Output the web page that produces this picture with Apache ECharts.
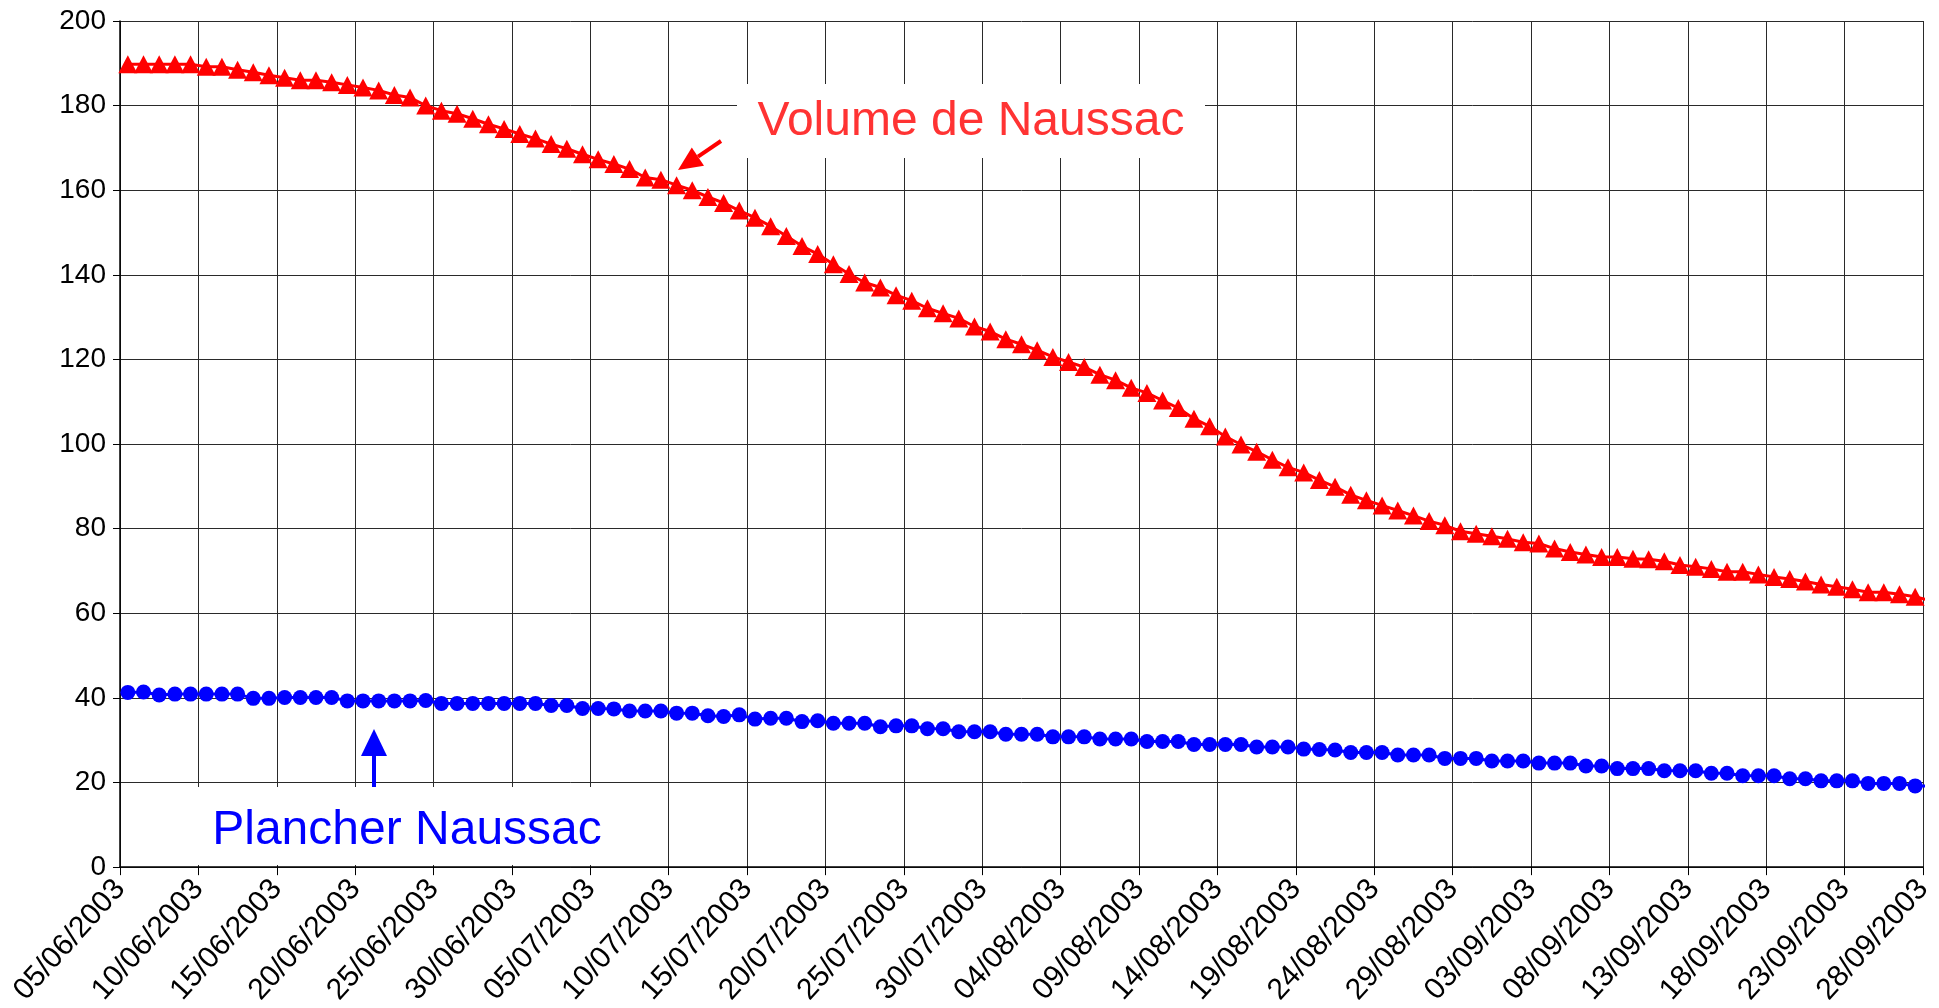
<!DOCTYPE html>
<html>
<head>
<meta charset="utf-8">
<title>Naussac 2003</title>
<script src="https://cdn.jsdelivr.net/npm/echarts@6.0.0/dist/echarts.min.js"></script>
<style>
  html, body { margin: 0; padding: 0; background: #fff; }
  #chart { width: 1939px; height: 1008px; }
</style>
</head>
<body>
<div id="chart"></div>
<script>
// libellés de l'axe des dates (un tous les 5 jours)
const tickLabels = [
  "05/06/2003", "10/06/2003", "15/06/2003", "20/06/2003", "25/06/2003", "30/06/2003",
  "05/07/2003", "10/07/2003", "15/07/2003", "20/07/2003", "25/07/2003", "30/07/2003",
  "04/08/2003", "09/08/2003", "14/08/2003", "19/08/2003", "24/08/2003", "29/08/2003",
  "03/09/2003", "08/09/2003", "13/09/2003", "18/09/2003", "23/09/2003", "28/09/2003",
];

// volume journalier du 05/06 au 28/09
const volume = [
  189.8, 189.8, 189.8, 189.8, 189.8, 189.2, 189.2, 188.5, 187.9, 187.2,
  186.6, 186.0, 186.0, 185.5, 184.9, 184.3, 183.6, 182.5, 181.9, 180.0,
  178.8, 178.1, 176.9, 175.6, 174.5, 173.3, 172.2, 170.9, 169.8, 168.5,
  167.3, 166.2, 165.0, 163.0, 162.5, 161.2, 160.0, 158.4, 157.0, 155.2,
  153.5, 151.5, 149.2, 146.8, 144.9, 142.5, 140.2, 138.2, 137.0, 135.2,
  133.9, 132.1, 130.9, 129.7, 127.8, 126.6, 124.8, 123.6, 122.2, 120.6,
  119.4, 118.2, 116.4, 115.1, 113.3, 112.1, 110.3, 108.5, 106.0, 104.2,
  101.8, 99.9, 98.2, 96.3, 94.5, 93.3, 91.5, 89.9, 88.0, 86.7,
  85.5, 84.3, 83.1, 81.8, 80.8, 79.4, 78.8, 78.2, 77.6, 76.8,
  76.5, 75.3, 74.5, 73.9, 73.3, 73.3, 72.9, 72.8, 72.3, 71.4,
  71.0, 70.5, 69.8, 69.8, 69.2, 68.6, 68.1, 67.5, 66.8, 66.3,
  65.7, 65.0, 65.0, 64.5, 63.9, 63.0,
];

// plancher journalier
const plancher = [
  41.3, 41.4, 40.7, 40.9, 40.9, 40.9, 40.9, 40.9, 39.9, 39.9,
  40.1, 40.1, 40.1, 40.1, 39.3, 39.3, 39.3, 39.3, 39.3, 39.4,
  38.7, 38.7, 38.7, 38.7, 38.7, 38.7, 38.7, 38.2, 38.2, 37.5,
  37.5, 37.4, 36.9, 36.9, 36.9, 36.4, 36.4, 35.8, 35.6, 36.0,
  35.0, 35.2, 35.2, 34.4, 34.6, 34.0, 34.0, 34.0, 33.2, 33.4,
  33.4, 32.7, 32.7, 32.0, 32.0, 32.0, 31.4, 31.4, 31.4, 30.8,
  30.8, 30.8, 30.3, 30.3, 30.3, 29.7, 29.7, 29.7, 29.0, 29.0,
  29.0, 29.0, 28.4, 28.4, 28.4, 27.9, 27.8, 27.7, 27.1, 27.1,
  27.1, 26.5, 26.5, 26.5, 25.7, 25.7, 25.7, 25.1, 25.1, 25.1,
  24.6, 24.6, 24.6, 23.9, 23.9, 23.3, 23.3, 23.3, 22.8, 22.8,
  22.8, 22.2, 22.2, 21.6, 21.6, 21.6, 20.9, 20.9, 20.4, 20.4,
  20.4, 19.8, 19.8, 19.8, 19.2, 19.2,
];

const FONT = "Liberation Sans, Arial, sans-serif";
const gridColor = "#2a2a2a";

// axe des dates : un point par jour, placé au milieu de la journée
const toPoints = (list) => list.map((v, i) => [i + 0.5, v]);

const chart = echarts.init(document.getElementById("chart"), null, { renderer: "canvas" });

chart.setOption({
  animation: false,
  backgroundColor: "#ffffff",
  grid: { left: 120, right: 16, top: 21, bottom: 139, containLabel: false },
  xAxis: {
    type: "value",
    min: 0,
    max: 115,
    interval: 5,
    axisLine: { show: true, onZero: false, lineStyle: { color: "#000", width: 1.5 } },
    axisTick: { show: true, inside: false, length: 8, lineStyle: { color: "#000", width: 1 } },
    splitLine: { show: true, lineStyle: { color: gridColor, width: 1 } },
    axisLabel: {
      show: true,
      rotate: 48,
      margin: 17,
      color: "#000",
      fontSize: 30,
      fontFamily: FONT,
      showMinLabel: true,
      showMaxLabel: true,
      hideOverlap: false,
      formatter: (v) => tickLabels[Math.round(v / 5)] || "",
    },
  },
  yAxis: {
    type: "value",
    min: 0,
    max: 200,
    interval: 20,
    axisLine: { show: true, lineStyle: { color: "#000", width: 1.5 } },
    axisTick: { show: true, inside: false, length: 7, lineStyle: { color: "#000", width: 1 } },
    splitLine: { show: true, lineStyle: { color: gridColor, width: 1 } },
    axisLabel: {
      margin: 14,
      color: "#000",
      fontSize: 28,
      fontFamily: FONT,
      showMinLabel: true,
      showMaxLabel: true,
    },
  },
  series: [
    {
      name: "Plancher Naussac",
      type: "line",
      data: toPoints(plancher),
      symbol: "circle",
      symbolSize: 15,
      itemStyle: { color: "#0000ff", borderWidth: 0 },
      lineStyle: { color: "#0000ff", width: 3 },
      clip: true,
      z: 3,
    },
    {
      name: "Volume de Naussac",
      type: "line",
      data: toPoints(volume),
      symbol: "triangle",
      symbolSize: [19, 18],
      itemStyle: { color: "#ff0000", borderWidth: 0 },
      lineStyle: { color: "#ff0000", width: 3 },
      clip: true,
      z: 4,
    },
  ],
  // étiquettes et flèches
  graphic: [
    { type: "rect", z: 100, shape: { x: 737, y: 84, width: 468, height: 74 }, style: { fill: "#fff" } },
    {
      type: "text", z: 101, x: 971, y: 122,
      style: { text: "Volume de Naussac", fill: "#ff3333", font: "48px " + FONT, align: "center", verticalAlign: "middle" },
    },
    { type: "line", z: 101, shape: { x1: 721, y1: 141, x2: 698, y2: 156.6 }, style: { stroke: "#ff0000", lineWidth: 4 } },
    {
      type: "polygon", z: 101,
      shape: { points: [[678, 170], [704, 165.7], [691.8, 147.5]] },
      style: { fill: "#ff0000" },
    },
    { type: "rect", z: 100, shape: { x: 186, y: 787, width: 432, height: 78 }, style: { fill: "#fff" } },
    {
      type: "text", z: 101, x: 407, y: 831,
      style: { text: "Plancher Naussac", fill: "#0000ff", font: "48px " + FONT, align: "center", verticalAlign: "middle" },
    },
    { type: "line", z: 101, shape: { x1: 374, y1: 787, x2: 374, y2: 752 }, style: { stroke: "#0000ff", lineWidth: 4 } },
    {
      type: "polygon", z: 101,
      shape: { points: [[374, 729], [361, 756], [387, 756]] },
      style: { fill: "#0000ff" },
    },
  ],
});

window.addEventListener("resize", () => chart.resize());
</script>
</body>
</html>
